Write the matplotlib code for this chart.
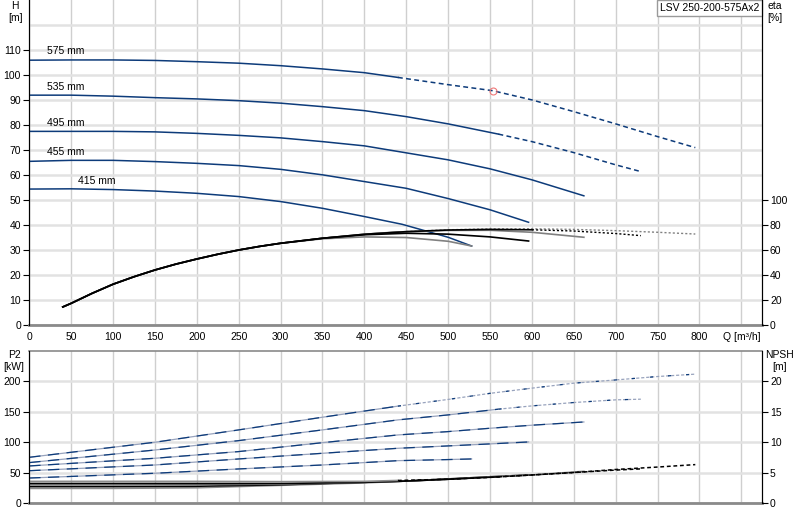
import matplotlib
matplotlib.use('Agg')
import matplotlib.pyplot as plt

plt.rcParams['font.family'] = ['Liberation Sans', 'DejaVu Sans']
plt.rcParams['font.size'] = 7.5

pump_name = 'LSV 250-200-575Ax2'
diameters = ['415 mm', '455 mm', '495 mm', '535 mm', '575 mm']

# Head curves, Q [m3/h] / H [m]
q_h = [
    [0, 50, 100, 150, 200, 250, 300, 350, 400, 445, 500, 528],
    [0, 50, 100, 150, 200, 250, 300, 350, 400, 450, 500, 550, 596],
    [0, 50, 100, 150, 200, 250, 300, 350, 400, 450, 500, 550, 600, 662],
    [0, 50, 100, 150, 200, 250, 300, 350, 400, 450, 500, 560, 600, 650, 700, 730],
    [0, 50, 100, 150, 200, 250, 300, 350, 400, 440, 500, 553, 600, 650, 700, 750, 795],
]
h_vals = [
    [54.3, 54.4, 54.1, 53.5, 52.6, 51.3, 49.3, 46.6, 43.3, 40.2, 35.0, 31.5],
    [65.4, 65.8, 65.8, 65.3, 64.6, 63.7, 62.2, 60.0, 57.3, 54.6, 50.5, 46.0, 41.0],
    [77.4, 77.4, 77.4, 77.2, 76.6, 75.8, 74.8, 73.3, 71.6, 68.8, 66.0, 62.4, 58.0, 51.6],
    [91.9, 91.9, 91.5, 90.9, 90.4, 89.7, 88.7, 87.3, 85.7, 83.3, 80.4, 76.3, 73.3, 68.9, 64.0, 61.3],
    [105.9, 106.0, 106.0, 105.8, 105.3, 104.7, 103.7, 102.4, 100.9, 99.0, 96.1, 93.7, 90.0, 85.3, 80.4, 75.3, 70.9],
]

# Efficiency curves, eta [%]
q_eta = [
    [40, 50, 75, 100, 125, 150, 175, 200, 225, 250, 275, 300, 350, 400, 450, 500, 528],
    [40, 50, 75, 100, 125, 150, 175, 200, 225, 250, 275, 300, 350, 400, 450, 500, 550, 596],
    [40, 50, 75, 100, 125, 150, 175, 200, 225, 250, 275, 300, 350, 400, 450, 500, 550, 600, 662],
    [40, 50, 75, 100, 125, 150, 175, 200, 225, 250, 275, 300, 350, 400, 450, 500, 550, 600, 650, 700, 730],
    [40, 50, 75, 100, 125, 150, 175, 200, 225, 250, 275, 300, 350, 400, 440, 500, 550, 600, 650, 700, 750, 795],
]
eta_vals = [
    [14.2, 17.1, 25.1, 32.4, 38.4, 43.8, 48.5, 52.6, 56.4, 59.8, 62.7, 65.2, 68.8, 70.3, 69.8, 66.8, 63.0],
    [14.2, 17.1, 25.1, 32.4, 38.4, 43.8, 48.5, 52.6, 56.4, 59.8, 62.7, 65.2, 69.2, 72.0, 73.2, 72.5, 70.3, 67.0],
    [14.2, 17.1, 25.1, 32.4, 38.4, 43.8, 48.5, 52.6, 56.4, 59.8, 62.7, 65.2, 69.2, 72.4, 74.5, 75.5, 75.6, 74.0, 70.0],
    [14.2, 17.1, 25.1, 32.4, 38.4, 43.8, 48.5, 52.6, 56.4, 59.8, 62.7, 65.2, 69.2, 72.4, 74.5, 75.8, 76.3, 76.0, 75.0, 73.0, 71.3],
    [14.2, 17.1, 25.1, 32.4, 38.4, 43.8, 48.5, 52.6, 56.4, 59.8, 62.7, 65.2, 69.2, 72.4, 74.3, 76.0, 76.7, 76.8, 76.3, 75.3, 74.0, 72.6],
]

# Shaft power, P2 [kW]
q_p2 = [
    [0, 150, 250, 350, 440, 500, 528],
    [0, 150, 250, 350, 440, 500, 550, 596],
    [0, 150, 250, 350, 440, 500, 550, 600, 662],
    [0, 150, 250, 350, 440, 500, 560, 600, 650, 700, 730],
    [0, 100, 150, 250, 350, 440, 500, 550, 600, 650, 700, 750, 795],
]
p2_vals = [
    [41.0, 48.8, 55.9, 62.4, 69.5, 71.3, 72.3],
    [53.0, 62.4, 72.3, 81.6, 89.8, 93.7, 97.0, 100.2],
    [60.8, 73.4, 84.4, 99.0, 111.7, 117.2, 122.7, 127.7, 133.0],
    [66.3, 87.0, 102.4, 120.0, 136.4, 144.6, 154.0, 159.4, 164.9, 169.3, 170.4],
    [75.0, 91.5, 99.7, 120.0, 140.8, 159.0, 170.0, 180.0, 188.5, 196.7, 202.0, 207.6, 211.5],
]

# NPSH [m]
q_npsh = [
    [0, 100, 200, 300, 400, 450, 500, 528],
    [0, 100, 200, 300, 400, 450, 500, 550, 596],
    [0, 100, 200, 300, 400, 450, 500, 550, 600, 662],
    [0, 100, 200, 300, 400, 450, 500, 560, 600, 650, 700, 730],
    [0, 100, 200, 300, 400, 440, 500, 550, 600, 650, 700, 750, 795],
]
npsh_vals = [
    [2.4, 2.4, 2.5, 2.9, 3.3, 3.6, 3.9, 4.1],
    [2.7, 2.7, 2.75, 3.0, 3.4, 3.6, 3.95, 4.3, 4.6],
    [2.95, 2.95, 3.0, 3.1, 3.4, 3.6, 3.9, 4.3, 4.6, 5.2],
    [3.2, 3.2, 3.2, 3.2, 3.4, 3.6, 3.9, 4.3, 4.6, 5.0, 5.4, 5.6],
    [3.55, 3.55, 3.55, 3.5, 3.55, 3.7, 3.9, 4.2, 4.6, 5.0, 5.5, 5.9, 6.3],
]

# flow beyond which the curve is drawn dashed
dash_from = [9999, 9999, 9999, 560, 440]
eta_dash_from = [9999, 9999, 9999, 600, 440]

# duty point
duty_q = [553]
duty_h = [93.7]

# label anchors (Q, H)
label_pos = [(58, 57.5), (21, 69.2), (21, 80.8), (21, 95.2), (21, 109.6)]

blue = '#0d3b7a'
grey_grid_v = '#cfcfcf'
grey_grid_h = '#e2e2e2'


def split(q, v, q_split):
    solid = [(a, b) for a, b in zip(q, v) if a <= q_split]
    dashed = [(a, b) for a, b in zip(q, v) if a >= q_split]
    return list(zip(*solid)), list(zip(*dashed)) if len(dashed) > 1 else None


def style_axes(ax):
    ax.set_xlim(0, 875)
    ax.set_xticks(range(0, 851, 50))
    ax.grid(axis='x', color=grey_grid_v, lw=1.0)
    ax.grid(axis='y', which='both', color=grey_grid_h, lw=1.8)
    ax.set_axisbelow(True)
    ax.spines['left'].set_color('black')
    ax.spines['right'].set_color('black')
    ax.spines['bottom'].set_color('#8a8a8a')
    ax.spines['bottom'].set_linewidth(2)
    ax.tick_params(axis='x', length=0, pad=5)
    ax.tick_params(axis='y', which='major', length=4, width=0.8, pad=2)
    ax.tick_params(axis='y', which='minor', length=0)


fig = plt.figure(figsize=(8, 5.2), dpi=100)
ax_h = fig.add_axes([0.0366, 0.3756, 0.9163, 0.6244])
ax_p = fig.add_axes([0.0366, 0.0327, 0.9163, 0.2929])

# ---- top: head + efficiency
style_axes(ax_h)
ax_h.set_ylim(0, 130)
ax_h.set_yticks(range(0, 111, 10))
ax_h.set_yticks([120], minor=True)
ax_h.spines['top'].set_visible(False)
labels = [str(v) for v in range(0, 801, 50)] + ['Q [m³/h]']
ax_h.set_xticklabels(labels)

for i in range(5):
    solid, dashed = split(q_h[i], h_vals[i], dash_from[i])
    ax_h.plot(solid[0], solid[1], color=blue, lw=1.1, zorder=3)
    if dashed:
        ax_h.plot(dashed[0], dashed[1], color=blue, lw=1.1, dashes=(3.2, 2.2), zorder=3)
    ax_h.text(label_pos[i][0], label_pos[i][1], diameters[i], va='center', ha='left')

ax_h.plot(duty_q, duty_h, 'o', mfc='none', mec='#f07878', ms=5, mew=0.8, zorder=4)

ax_e = ax_h.twinx()
ax_e.set_ylim(0, 260)
ax_e.set_yticks(range(0, 101, 20))
ax_e.tick_params(axis='y', length=4, width=0.8, pad=1.5)
ax_e.spines['top'].set_visible(False)
ax_e.spines['bottom'].set_visible(False)
# grey curves first so the black ones sit on top of the shared rising branch
for i in [0, 2, 4, 1, 3]:
    col = '#808080' if i % 2 == 0 else 'black'
    solid, dashed = split(q_eta[i], eta_vals[i], eta_dash_from[i])
    ax_e.plot(solid[0], solid[1], color=col, lw=1.2)
    if dashed:
        ax_e.plot(dashed[0], dashed[1], color=col, lw=1.0, dashes=(1.5, 1.5))

ax_h.text(0.9955, 0.991, pump_name, transform=ax_h.transAxes, ha='right', va='top',
          zorder=6, bbox=dict(boxstyle='square,pad=0.3', fc='white', ec='#9a9a9a', lw=1))

# ---- bottom: power + NPSH
style_axes(ax_p)
ax_p.set_ylim(0, 250)
ax_p.set_yticks(range(0, 201, 50))
ax_p.set_xticklabels([])
ax_p.spines['top'].set_color('#8a8a8a')
ax_p.spines['top'].set_linewidth(1.2)

for i in range(5):
    solid, dashed = split(q_p2[i], p2_vals[i], dash_from[i])
    ax_p.plot(solid[0], solid[1], color='#98a3bd', lw=0.9, zorder=3)
    ax_p.plot(solid[0], solid[1], color=blue, lw=0.9, dashes=(9, 6), zorder=3)
    if dashed:
        ax_p.plot(dashed[0], dashed[1], color='#98a3bd', lw=0.9, dashes=(2.5, 1.5), zorder=3)
        ax_p.plot(dashed[0], dashed[1], color=blue, lw=0.9, dashes=(2.5, 12), zorder=3)

ax_n = ax_p.twinx()
ax_n.set_ylim(0, 25)
ax_n.set_yticks(range(0, 21, 5))
ax_n.tick_params(axis='y', length=4, width=0.8, pad=1.5)
ax_n.spines['bottom'].set_visible(False)
ax_n.spines['top'].set_visible(False)
for i in range(5):
    col = '#8c8c8c' if i % 2 == 0 else 'black'
    solid, dashed = split(q_npsh[i], npsh_vals[i], dash_from[i])
    ax_n.plot(solid[0], solid[1], color=col, lw=1.2)
    if dashed:
        ax_n.plot(dashed[0], dashed[1], color='black', lw=1.1, dashes=(2.5, 1.8))

# axis titles
fig.text(0.019, 0.977, 'H\n[m]', ha='center', va='center', linespacing=1.2)
fig.text(0.969, 0.977, 'eta\n[%]', ha='center', va='center', linespacing=1.2)
fig.text(0.0175, 0.306, 'P2\n[kW]', ha='center', va='center', linespacing=1.2)
fig.text(0.975, 0.306, 'NPSH\n[m]', ha='center', va='center', linespacing=1.2)

fig.savefig('out.png', dpi=100)
